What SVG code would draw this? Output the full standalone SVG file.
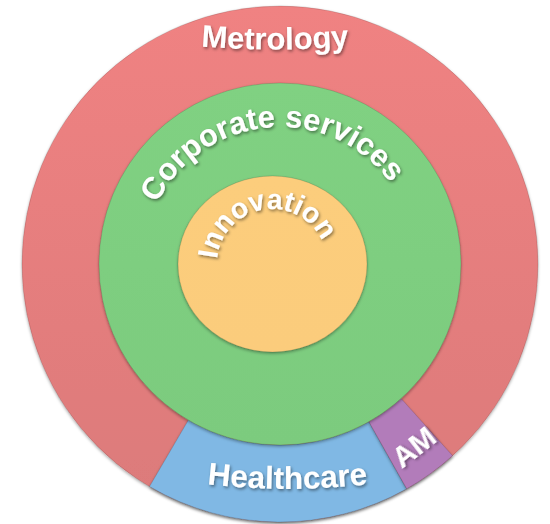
<svg xmlns="http://www.w3.org/2000/svg" xmlns:xlink="http://www.w3.org/1999/xlink" width="550" height="524" viewBox="0 0 550 524">
  <defs>
    <linearGradient id="gRed" x1="0" y1="0" x2="0" y2="1">
      <stop offset="0" stop-color="#F08282"/>
      <stop offset="1" stop-color="#DB7A7A"/>
    </linearGradient>
    <linearGradient id="gGreen" x1="0" y1="0" x2="0" y2="1">
      <stop offset="0" stop-color="#80D182"/>
      <stop offset="1" stop-color="#7CCB7E"/>
    </linearGradient>
    <linearGradient id="gOrange" x1="0" y1="0" x2="0" y2="1">
      <stop offset="0" stop-color="#FCCD7C"/>
      <stop offset="1" stop-color="#FBCC7C"/>
    </linearGradient>
    <filter id="shadow" x="-10%" y="-10%" width="120%" height="120%">
      <feDropShadow dx="0" dy="1.5" stdDeviation="1.8" flood-color="#000" flood-opacity="0.35"/>
    </filter>
    <filter id="tshadow" x="-20%" y="-30%" width="140%" height="160%">
      <feDropShadow dx="1.2" dy="1.8" stdDeviation="1.4" flood-color="#000" flood-opacity="0.45"/>
    </filter>
    <path id="pMetrology" d="M 75 27 A 900 900 0 0 0 475 27"/>
    <path id="pHealth" d="M 87 459.5 A 700 700 0 0 0 488 459.5"/>
    <path id="pCorp" d="M 143 264 A 137 137 0 0 1 417 264"/>
    <path id="pInnov" d="M 217 264 A 55 55 0 0 1 327 264"/>
  </defs>
  <style>
    .lbl { font-family: "Liberation Sans", Arial, sans-serif; font-weight: bold; fill: #FFFFFF; filter: url(#tshadow); }
    .seg { stroke: #000; stroke-opacity: 0.12; stroke-width: 1; filter: url(#shadow); }
  </style>

  <g id="metrology">
    <circle class="seg" cx="280" cy="264" r="258" fill="url(#gRed)"/>
    <text class="lbl" font-size="31" text-anchor="middle"><textPath href="#pMetrology" xlink:href="#pMetrology" startOffset="50%">Metrology</textPath></text>
  </g>

  <g id="healthcare">
    <path class="seg" d="M 368.9 421.7 L 406.7 488.8 A 258 258 0 0 1 149.5 486.5 L 188.4 420.1 A 181 181 0 0 0 368.9 421.7 Z" fill="#80B8E4"/>
    <text class="lbl" font-size="31.5" text-anchor="middle"><textPath href="#pHealth" xlink:href="#pHealth" startOffset="50%">Healthcare</textPath></text>
  </g>

  <g id="am">
    <path class="seg" d="M 401.1 398.5 L 452.6 455.7 A 258 258 0 0 1 406.7 488.8 L 368.9 421.7 A 181 181 0 0 0 401.1 398.5 Z" fill="#B27CBA"/>
    <text class="lbl" font-size="30" text-anchor="middle" transform="translate(420 455) rotate(-38)">AM</text>
  </g>

  <g id="corporate-services">
    <circle class="seg" cx="280" cy="264" r="181" fill="url(#gGreen)"/>
    <text class="lbl" font-size="31" text-anchor="middle"><textPath href="#pCorp" xlink:href="#pCorp" startOffset="203.2">Corporate services</textPath></text>
  </g>

  <g id="innovation">
    <ellipse class="seg" cx="272.5" cy="264" rx="94.5" ry="88" fill="url(#gOrange)"/>
    <text class="lbl" font-size="28.5" text-anchor="middle"><textPath href="#pInnov" xlink:href="#pInnov" startOffset="76.8">Innovation</textPath></text>
  </g>

  <g id="connectors"/>
</svg>
